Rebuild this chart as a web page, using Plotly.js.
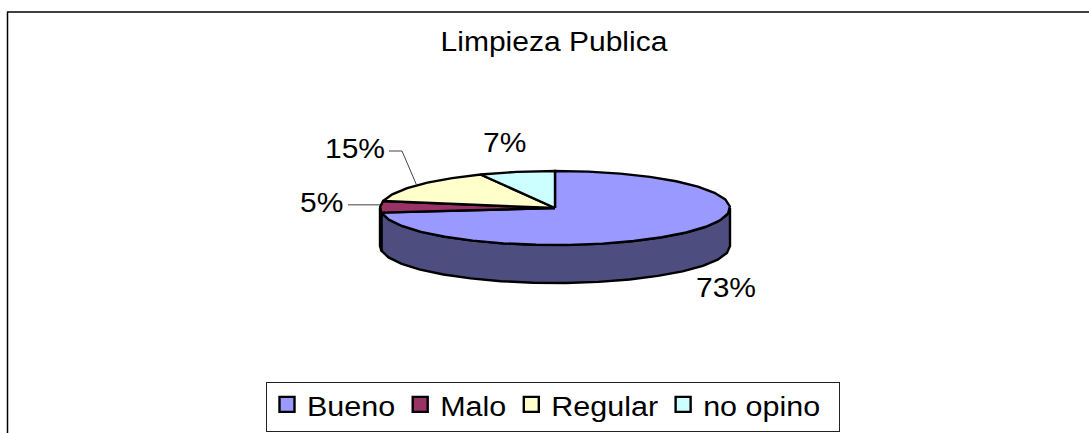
<!DOCTYPE html>
<html><head><meta charset="utf-8">
<script src="https://cdn.plot.ly/plotly-3.0.1.min.js"></script>
<style>html,body{margin:0;padding:0;background:#fff;overflow:hidden}</style>
</head><body><div id="chart" style="width:1089px;height:433px"></div>
<script>
const categories = ["Bueno", "Malo", "Regular", "no opino"];
const values = [73, 5, 15, 7];
const chartTitle = "Limpieza Publica";
const topColors = ["#9999FF", "#993366", "#FFFFCC", "#CCFFFF"];
const wallColors = ["#4D4D80", "#4D1A33", "#80805F", "#668080"];

// Projected pie geometry on a pixel-like axis
const W = 1089, H = 433;
const cx = 555, cy = 208, rx = 175, ry = 37, depth = 38, stepDeg = 11;
const FONT = "Liberation Sans, Arial, sans-serif";

const rim = deg => {
  const t = deg * Math.PI / 180;
  return [cx + rx * Math.sin(t), cy - ry * Math.cos(t)];
};
const arc = (a, b) => {
  const pts = [];
  const n = Math.max(1, Math.round((b - a) / stepDeg));
  for (let i = 0; i <= n; i++) pts.push(rim(a + (b - a) * i / n));
  return pts;
};
const total = values.reduce((s, v) => s + v, 0);
const bounds = [0];
values.forEach(v => bounds.push(bounds[bounds.length - 1] + v / total * 360));

const traces = [];
const poly = (pts, color) => traces.push({
  type: "scatter", mode: "lines", x: pts.map(p => p[0]), y: pts.map(p => p[1]),
  fill: "toself", fillcolor: color, line: {color: "#000", width: 2.4, shape: "linear"},
  hoverinfo: "skip", showlegend: false
});

// Side walls: only the front half (90 to 270 degrees) is visible
values.forEach((v, i) => {
  const a = Math.max(bounds[i], 90), b = Math.min(bounds[i + 1], 270);
  if (b <= a) return;
  const front = arc(a, b);
  const low = front.map(p => [p[0], p[1] + depth]).reverse();
  poly(front.concat(low, [front[0]]), wallColors[i]);
});
// Top faces
values.forEach((v, i) => {
  poly([[cx, cy]].concat(arc(bounds[i], bounds[i + 1]), [[cx, cy]]), topColors[i]);
});

// Leader lines from the rim at the slice midpoints
const mid = i => (bounds[i] + bounds[i + 1]) / 2;
const leader = pts => traces.push({
  type: "scatter", mode: "lines", x: pts.map(p => p[0]), y: pts.map(p => p[1]),
  line: {color: "#444", width: 1}, hoverinfo: "skip", showlegend: false
});
const m1 = rim(mid(1)), m2 = rim(mid(2));
leader([[m1[0], m1[1] - 2], [348, m1[1] - 2]]);
leader([m2, [402, 151], [389, 151]]);

// Legend entries
categories.forEach((c, i) => traces.push({
  type: "scatter", mode: "markers", name: c, x: [null], y: [null],
  marker: {symbol: "square", size: 15, color: topColors[i], line: {color: "#000", width: 2.4}},
  hoverinfo: "skip"
}));

const label = (text, x, y) => ({
  text, x, y, xref: "x", yref: "y", showarrow: false, xanchor: "center", yanchor: "middle",
  font: {family: FONT, size: 30, color: "#000"}
});
const pct = i => Math.round(values[i] / total * 100) + "%";

const layout = {
  width: W, height: H, margin: {l: 0, r: 0, t: 0, b: 0, autoexpand: false},
  paper_bgcolor: "#fff", plot_bgcolor: "#fff",
  title: {text: chartTitle, x: 554 / W, y: 1 - 42 / H, xanchor: "center", yanchor: "middle",
          font: {family: FONT, size: 30, color: "#000"}},
  xaxis: {range: [0, W], visible: false, fixedrange: true},
  yaxis: {range: [H, 0], visible: false, fixedrange: true},
  showlegend: true,
  legend: {orientation: "h", x: 266 / W, y: 1 - 377 / H, xanchor: "left", yanchor: "top",
           bordercolor: "#222", borderwidth: 1, bgcolor: "#fff",
           font: {family: FONT, size: 30.5, color: "#000"}, itemsizing: "trace",
           traceorder: "normal"},
  annotations: [
    label(pct(0), 726, 286), label(pct(1), 321, 201),
    label(pct(2), 355, 147), label(pct(3), 504, 141)
  ],
  shapes: [
    {type: "line", xref: "paper", yref: "paper", x0: 7 / W, x1: 1, y0: 1 - 12 / H, y1: 1 - 12 / H, line: {color: "#000", width: 1.5}},
    {type: "line", xref: "paper", yref: "paper", x0: 7.5 / W, x1: 7.5 / W, y0: 0, y1: 1 - 12 / H, line: {color: "#000", width: 1.5}}
  ]
};
Plotly.newPlot("chart", traces, layout, {displayModeBar: false, staticPlot: true}).then(gd => {
  // The reference's lettering is wider than it is tall: keep the width, lower the height.
  gd.querySelectorAll("svg text").forEach(t => {
    const w = t.getComputedTextLength();
    t.style.fontSize = "27px";
    t.setAttribute("textLength", w);
    t.setAttribute("lengthAdjust", "spacingAndGlyphs");
  });
  // Legend frame as in the reference.
  const bg = gd.querySelector(".legend .bg");
  if (bg) { bg.setAttribute("width", 573); bg.setAttribute("height", 49); bg.setAttribute("y", 5.5); }
});
</script></body></html>
